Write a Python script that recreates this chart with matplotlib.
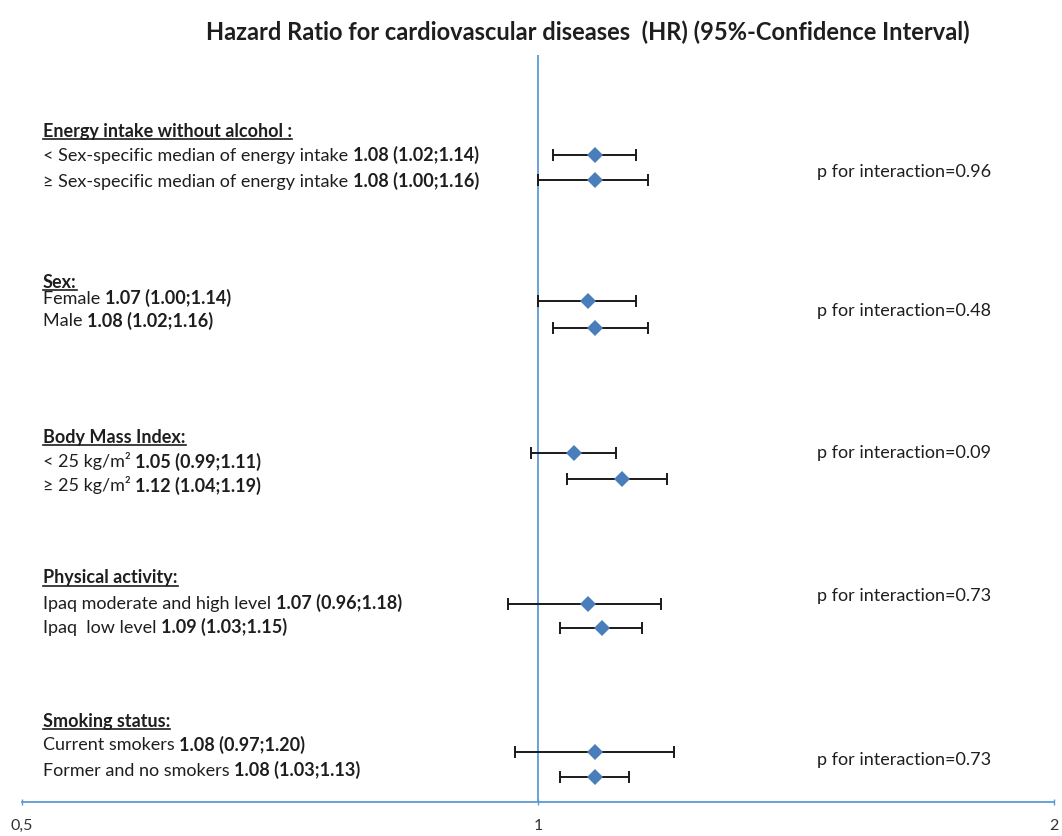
import matplotlib
matplotlib.use("Agg")
import matplotlib.pyplot as plt
from matplotlib.ticker import NullLocator

# ---- data ----
title = "Hazard Ratio for cardiovascular diseases  (HR) (95%-Confidence Interval)"
groups = ["Energy intake without alcohol :", "Sex:", "Body Mass Index:",
          "Physical activity:", "Smoking status:"]
labels = ["< Sex-specific median of energy intake ",
          "\u2265 Sex-specific median of energy intake ",
          "Female ", "Male ",
          "< 25 kg/m\u00b2 ", "\u2265 25 kg/m\u00b2 ",
          "Ipaq moderate and high level ", "Ipaq  low level ",
          "Current smokers ", "Former and no smokers "]
hr = [1.08, 1.08, 1.07, 1.08, 1.05, 1.12, 1.07, 1.09, 1.08, 1.08]
ci_low = [1.02, 1.00, 1.00, 1.02, 0.99, 1.04, 0.96, 1.03, 0.97, 1.03]
ci_high = [1.14, 1.16, 1.14, 1.16, 1.11, 1.19, 1.18, 1.15, 1.20, 1.13]
p_values = ["0.96", "0.48", "0.09", "0.73", "0.73"]
tick_values = [0.5, 1, 2]
tick_labels = ["0,5", "1", "2"]

# ---- layout (pixels from the top edge) ----
W, H = 1062, 836
header_y = [131, 282, 437, 578, 721]
label_y = [155, 181, 298, 321, 462, 486, 603, 627, 745, 770]
marker_y = [155, 180, 301, 328, 453, 479, 604, 628, 752, 777]
p_y = [172, 311, 453, 596, 760]
axis_y = 802
x0_px, x1_px = 22, 1054
text_x, p_x = 43, 817

FONT = "Lato"
TXT = "#1e1e1e"
BLUE = "#5B9BD5"
DIAMOND = "#4A7EBB"
FS = 13.0

fig = plt.figure(figsize=(W / 100, H / 100), dpi=100)
fig.patch.set_facecolor("white")

# overlay in pixel units for the text column
ov = fig.add_axes([0, 0, 1, 1])
ov.set_xlim(0, W)
ov.set_ylim(H, 0)
ov.axis("off")

# forest plot axes (log2 scale)
ax = fig.add_axes([x0_px / W, (H - axis_y) / H, (x1_px - x0_px) / W, axis_y / H])
ax.patch.set_alpha(0)
ax.set_xscale("log", base=2)
ax.set_xlim(0.5, 2)
ax.set_ylim(axis_y, 0)
for s in ("top", "left", "right"):
    ax.spines[s].set_visible(False)
ax.spines["bottom"].set_color(BLUE)
ax.spines["bottom"].set_linewidth(1.3)
ax.set_yticks([])
ax.set_xticks(tick_values)
ax.set_xticklabels(tick_labels)
ax.xaxis.set_minor_locator(NullLocator())
ax.tick_params(axis="x", direction="inout", length=5, width=1, color=BLUE,
               pad=10, labelsize=11.5, labelcolor="#333333")
for t in ax.get_xticklabels():
    t.set_fontfamily(FONT)

ax.vlines(1, 55, axis_y, color=BLUE, lw=1.3, zorder=1)

err_lo = [h - l for h, l in zip(hr, ci_low)]
err_hi = [u - h for h, u in zip(hr, ci_high)]
ax.errorbar(hr, marker_y, xerr=[err_lo, err_hi], fmt="none", ecolor="#1a1a1a",
            elinewidth=1.4, capsize=4, capthick=1.4, zorder=2)
ax.plot(hr, marker_y, linestyle="none", marker="D", markersize=8,
        color=DIAMOND, markeredgewidth=0, zorder=3)

# ---- text ----
ov.text(588, 32, title, ha="center", va="center", fontsize=17,
        fontweight="bold", family=FONT, color=TXT)

renderer = fig.canvas.get_renderer()


def run(x, y, parts):
    """Draw a sequence of (text, weight) segments on one baseline."""
    for s, w in parts:
        t = ov.text(x, y, s, ha="left", va="baseline", fontsize=FS,
                    fontweight=w, family=FONT, color=TXT)
        bb = t.get_window_extent(renderer)
        x += bb.width
    return x


for g, y in zip(groups, header_y):
    t = ov.text(text_x, y + 5.5, g, ha="left", va="baseline", fontsize=FS,
                fontweight="bold", family=FONT, color=TXT)
    bb = t.get_window_extent(renderer)
    ov.plot([text_x, text_x + bb.width], [y + 8, y + 8], color=TXT, lw=1.2)

for lab, h, l, u, y in zip(labels, hr, ci_low, ci_high, label_y):
    run(text_x, y + 5.5, [(lab, "normal"), (f"{h:.2f} ({l:.2f};{u:.2f})", "bold")])

for p, y in zip(p_values, p_y):
    ov.text(p_x, y, f"p for interaction={p}", ha="left", va="center",
            fontsize=FS, family=FONT, color=TXT)

fig.savefig("out.png", dpi=100, facecolor="white")
